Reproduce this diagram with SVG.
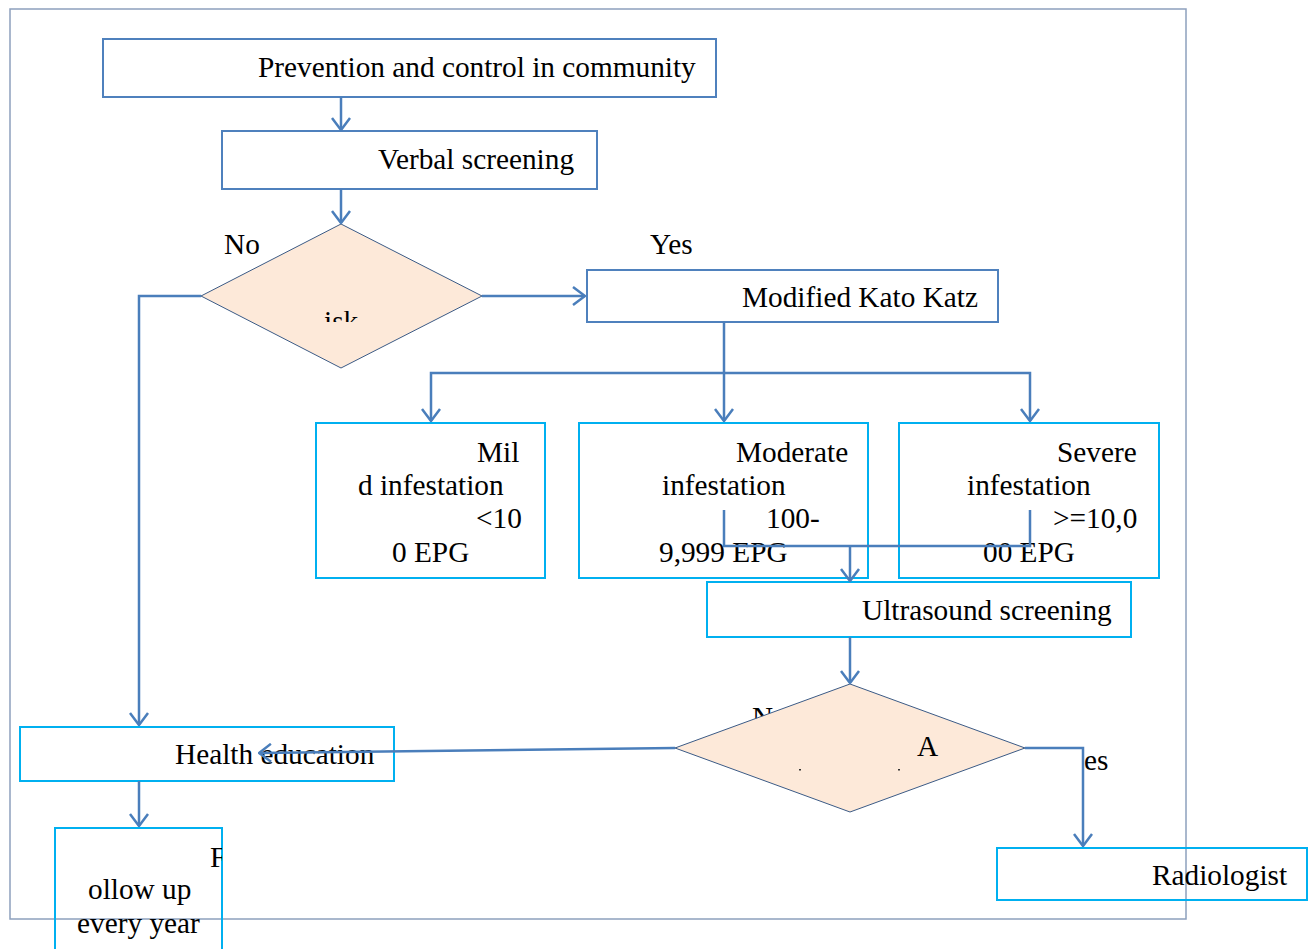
<svg xmlns="http://www.w3.org/2000/svg" width="1310" height="949" viewBox="0 0 1310 949">
<style>
  .t { font-family: "Liberation Serif", "Times New Roman", serif; font-size: 29.3px; fill: #000; }
  .bx { fill: none; stroke: #4f81bd; stroke-width: 2; }
  .cy { fill: none; stroke: #00b0f0; stroke-width: 2; }
  .dm { fill: #fde9d9; stroke: #3b5a85; stroke-width: 1; }
  .cn { fill: none; stroke: #4a7ebb; stroke-width: 2.5; }
  .frame { fill: none; stroke: #8da0bd; stroke-width: 1.5; }
</style>
<defs>
  <marker id="arr" viewBox="0 0 14 20" refX="13" refY="10" markerWidth="14" markerHeight="20" markerUnits="userSpaceOnUse" orient="auto">
    <path d="M1,1 L13,10 L1,19" fill="none" stroke="#4a7ebb" stroke-width="2.5"/>
  </marker>
  <clipPath id="clipIsk"><rect x="300" y="300" width="80" height="22"/></clipPath>
  <clipPath id="clipF"><rect x="200" y="840" width="22" height="40"/></clipPath>
</defs>
<rect width="1310" height="949" fill="#fff"/>
<rect class="frame" x="10" y="9" width="1176" height="910"/>

<g id="n-prevention">
  <rect class="bx" x="103" y="39" width="613" height="58"/>
  <text class="t" x="258" y="77">Prevention and control in community</text>
</g>
<g id="n-verbal">
  <rect class="bx" x="222" y="131" width="375" height="58"/>
  <text class="t" x="378" y="169">Verbal screening</text>
</g>
<g id="n-risk">
  <polygon class="dm" points="341,224 482,296 341,368 201,296"/>
  <text class="t" x="324" y="331" clip-path="url(#clipIsk)">isk</text>
</g>
<g id="n-katokatz">
  <rect class="bx" x="587" y="270" width="411" height="52"/>
  <text class="t" x="742" y="307">Modified Kato Katz</text>
</g>
<g id="n-mild">
  <rect class="cy" x="316" y="423" width="229" height="155"/>
  <text class="t" x="477" y="462">Mil</text>
  <text class="t" x="358" y="495">d infestation</text>
  <text class="t" x="476" y="528">&lt;10</text>
  <text class="t" x="392" y="562">0 EPG</text>
</g>
<g id="n-moderate">
  <rect class="cy" x="579" y="423" width="289" height="155"/>
  <text class="t" x="736" y="462">Moderate</text>
  <text class="t" x="662" y="495">infestation</text>
  <text class="t" x="766" y="528">100-</text>
  <text class="t" x="659" y="562">9,999 EPG</text>
</g>
<g id="n-severe">
  <rect class="cy" x="899" y="423" width="260" height="155"/>
  <text class="t" x="1057" y="462">Severe</text>
  <text class="t" x="967" y="495">infestation</text>
  <text class="t" x="1053" y="528">&gt;=10,0</text>
  <text class="t" x="983" y="562">00 EPG</text>
</g>
<g id="n-ultrasound">
  <rect class="cy" x="707" y="582" width="424" height="55"/>
  <text class="t" x="862" y="620">Ultrasound screening</text>
</g>
<g id="n-decision2">
  <text class="t" x="752" y="727">N</text>
  <polygon class="dm" points="850,684 1025,748 850,812 675,748"/>
  <text class="t" x="917" y="756">A</text>
  <rect x="799" y="769" width="2" height="1.5" fill="#333"/>
  <rect x="898" y="769" width="2" height="1.5" fill="#333"/>
</g>
<g id="n-health">
  <rect class="cy" x="20" y="727" width="374" height="54"/>
  <text class="t" x="175" y="764">Health education</text>
</g>
<g id="n-followup">
  <rect class="cy" x="55" y="828" width="167" height="130"/>
  <text class="t" x="210" y="867" clip-path="url(#clipF)">F</text>
  <text class="t" x="88" y="899">ollow up</text>
  <text class="t" x="77" y="933">every year</text>
</g>
<g id="n-radiologist">
  <rect class="cy" x="997" y="848" width="310" height="52"/>
  <text class="t" x="1152" y="885">Radiologist</text>
</g>

<g id="labels">
  <text class="t" x="224" y="254">No</text>
  <text class="t" x="650" y="254">Yes</text>
  <text class="t" x="1084" y="770">es</text>
</g>

<g id="connectors">
  <line class="cn" x1="341" y1="97" x2="341" y2="130" marker-end="url(#arr)"/>
  <line class="cn" x1="341" y1="189" x2="341" y2="223" marker-end="url(#arr)"/>
  <line class="cn" x1="482" y1="296" x2="585" y2="296" marker-end="url(#arr)"/>
  <polyline class="cn" points="201,296 139,296 139,725" marker-end="url(#arr)"/>
  <line class="cn" x1="724" y1="322" x2="724" y2="421" marker-end="url(#arr)"/>
  <polyline class="cn" points="724,373 431,373 431,421" marker-end="url(#arr)"/>
  <polyline class="cn" points="724,373 1030,373 1030,421" marker-end="url(#arr)"/>
  <polyline class="cn" points="724,510 724,546 1030,546 1030,510"/>
  <line class="cn" x1="850" y1="546" x2="850" y2="581" marker-end="url(#arr)"/>
  <line class="cn" x1="850" y1="637" x2="850" y2="683" marker-end="url(#arr)"/>
  <line class="cn" x1="675" y1="748" x2="259" y2="753" marker-end="url(#arr)"/>
  <polyline class="cn" points="1025,748 1083,748 1083,846" marker-end="url(#arr)"/>
  <line class="cn" x1="139" y1="781" x2="139" y2="826" marker-end="url(#arr)"/>
</g>
</svg>
